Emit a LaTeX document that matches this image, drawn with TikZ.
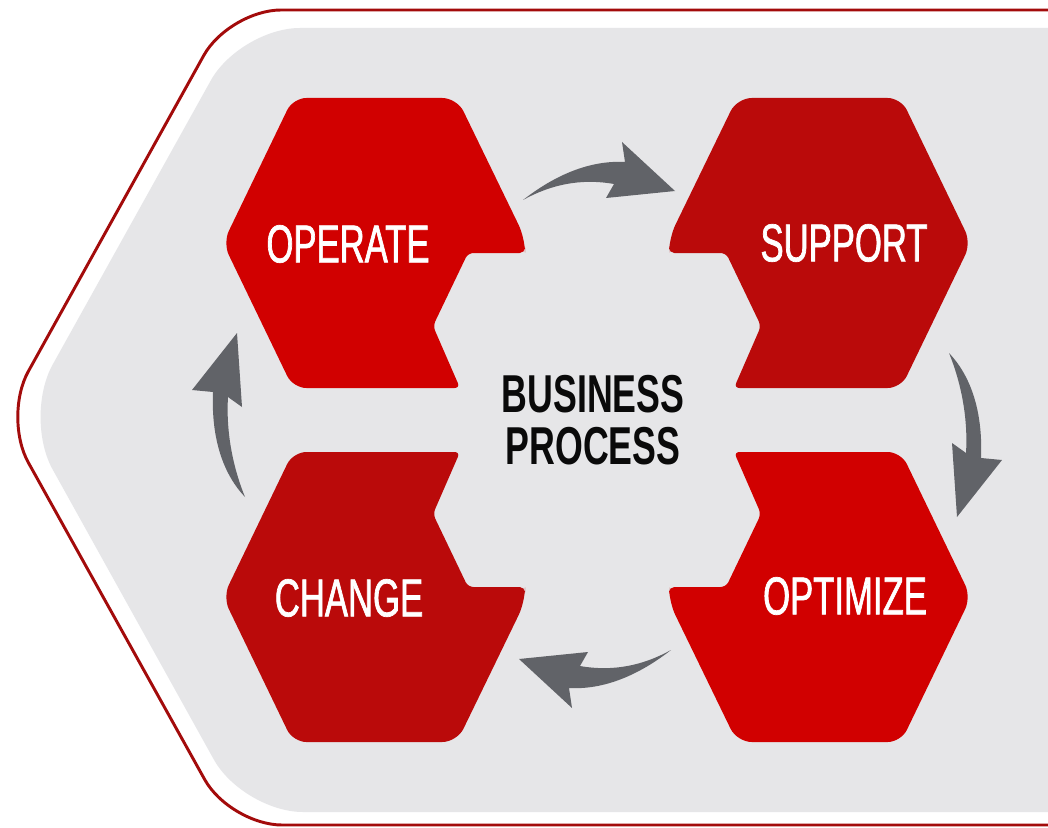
\documentclass[tikz,border=0pt]{standalone}
\usepackage{fontspec}
\newfontfamily\labelfont[FakeStretch=0.65,FakeBold=1.3]{Liberation Sans}
\newfontfamily\titlefont[FakeStretch=0.67]{Liberation Sans}
\definecolor{framered}{HTML}{A30B0B}
\definecolor{bggrey}{HTML}{E6E6E8}
\definecolor{redA}{HTML}{D10000}
\definecolor{redB}{HTML}{BA0A0A}
\definecolor{arrowc}{HTML}{616368}
\definecolor{titlec}{HTML}{0A0A0A}
\tikzset{
  hexlabel/.style={text=white, font=\labelfont\fontsize{40}{48}\selectfont, inner sep=0pt, anchor=center},
  titlelabel/.style={text=titlec, font=\titlefont\bfseries\fontsize{40}{39}\selectfont, align=center, inner sep=0pt, anchor=center},
  swoosh/.style={fill=arrowc}
}
\begin{document}
\begin{tikzpicture}[x=0.75pt,y=-0.75pt]
\useasboundingbox (0,0) rectangle (1048,827);
\clip (0,0) rectangle (1048,827);
\fill[white] (0,0) rectangle (1048,827);
% frame
\draw[framered, line width=2.2pt, fill=white, rounded corners=39pt]
  (1250,10) -- (229,10) -- (3,417) -- (230,825) -- (1250,825);
\fill[bggrey, rounded corners=45pt]
  (1250,28) -- (240,28) -- (23.5,417) -- (243,812) -- (1250,812) -- cycle;
% hexagons
\begin{scope}
\fill[redA] (375,98) [rounded corners=11pt] -- (457,98) -- (525,238) [rounded corners=4pt] -- (525,253) -- (468,253) -- (433,326) -- (460,388) [rounded corners=10pt] -- (293,388) -- (223,243) -- (293,98) -- cycle;
\end{scope}
\begin{scope}[shift={(1194,0)},xscale=-1]
\fill[redB] (375,98) [rounded corners=11pt] -- (457,98) -- (525,238) [rounded corners=4pt] -- (525,253) -- (468,253) -- (433,326) -- (460,388) [rounded corners=10pt] -- (293,388) -- (223,243) -- (293,98) -- cycle;
\end{scope}
\begin{scope}[shift={(0,840)},yscale=-1]
\fill[redB] (375,98) [rounded corners=11pt] -- (457,98) -- (525,238) [rounded corners=4pt] -- (525,253) -- (468,253) -- (433,326) -- (460,388) [rounded corners=10pt] -- (293,388) -- (223,243) -- (293,98) -- cycle;
\end{scope}
\begin{scope}[shift={(1194,840)},scale=-1]
\fill[redA] (375,98) [rounded corners=11pt] -- (457,98) -- (525,238) [rounded corners=4pt] -- (525,253) -- (468,253) -- (433,326) -- (460,388) [rounded corners=10pt] -- (293,388) -- (223,243) -- (293,98) -- cycle;
\end{scope}
% arrows
\fill[swoosh] (523,200) .. controls (555,175) and (590,160) .. (625,162) -- (622,142) -- (675,191) -- (606,198) -- (614,184) .. controls (580,178) and (550,185) .. (523,200) -- cycle;
\fill[swoosh] (949,353) .. controls (970,375) and (983,410) .. (981,458) -- (1002,460) -- (957,517) -- (952,443) -- (966,453) .. controls (968,420) and (962,385) .. (949,353) -- cycle;
\begin{scope}[shift={(1194,850)},scale=-1]
\fill[swoosh] (523,200) .. controls (555,175) and (590,160) .. (625,162) -- (622,142) -- (675,191) -- (606,198) -- (614,184) .. controls (580,178) and (550,185) .. (523,200) -- cycle;
\fill[swoosh] (949,353) .. controls (970,375) and (983,410) .. (981,458) -- (1002,460) -- (957,517) -- (952,443) -- (966,453) .. controls (968,420) and (962,385) .. (949,353) -- cycle;
\end{scope}
% labels
\node[hexlabel] (operate) at (348,244) {OPERATE};
\node[hexlabel] (support) at (844,243) {SUPPORT};
\node[hexlabel] (change) at (349,598) {CHANGE};
\node[hexlabel] (optimize) at (845,596) {OPTIMIZE};
\node[titlelabel] (business) at (593,420) {BUSINESS\\PROCESS};
\end{tikzpicture}
\end{document}
